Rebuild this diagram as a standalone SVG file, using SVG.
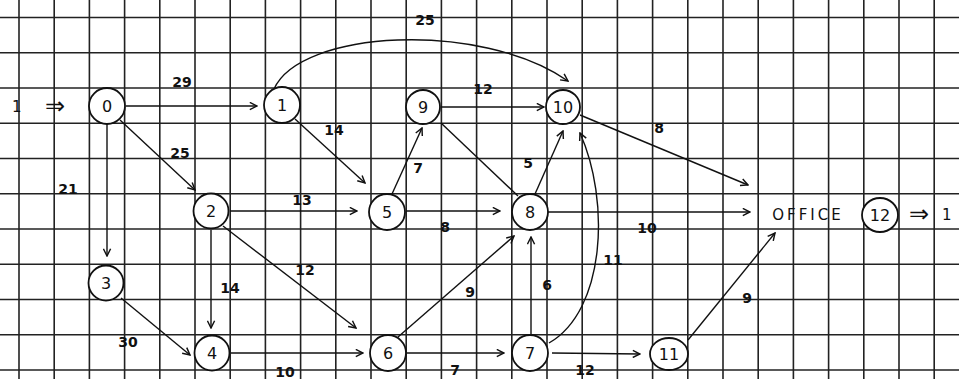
<svg xmlns="http://www.w3.org/2000/svg" width="959" height="379" viewBox="0 0 959 379">
<defs>
<marker id="ah" viewBox="0 0 10 10" refX="9" refY="5" markerWidth="9" markerHeight="9" markerUnits="userSpaceOnUse" orient="auto">
<path d="M1,1 L9,5 L1,9" fill="none" stroke="#111" stroke-width="1.6"/>
</marker>
<style>
.grid line{stroke:#222;stroke-width:1.6}
.n circle,.n ellipse{fill:#fff;stroke:#111;stroke-width:1.8}
.n text{font-family:"DejaVu Sans",sans-serif;font-size:16px;fill:#111;text-anchor:middle;dominant-baseline:central}
.e path,.e line{fill:none;stroke:#111;stroke-width:1.4}
.a{marker-end:url(#ah)}
.lbl text{font-family:"DejaVu Sans",sans-serif;font-size:14px;font-weight:bold;fill:#111;text-anchor:middle;dominant-baseline:central}
.t{font-family:"DejaVu Sans",sans-serif;font-size:15px;fill:#111;dominant-baseline:central}
.big{font-size:24px}
</style>
</defs>
<rect width="959" height="379" fill="#fff"/>
<g class="grid">
<line x1="19" y1="0" x2="19" y2="379"/><line x1="54.2" y1="0" x2="54.2" y2="379"/><line x1="89.4" y1="0" x2="89.4" y2="379"/><line x1="124.6" y1="0" x2="124.6" y2="379"/><line x1="159.8" y1="0" x2="159.8" y2="379"/><line x1="195" y1="0" x2="195" y2="379"/><line x1="230.2" y1="0" x2="230.2" y2="379"/><line x1="265.4" y1="0" x2="265.4" y2="379"/><line x1="300.6" y1="0" x2="300.6" y2="379"/><line x1="335.8" y1="0" x2="335.8" y2="379"/><line x1="371" y1="0" x2="371" y2="379"/><line x1="406.2" y1="0" x2="406.2" y2="379"/><line x1="441.4" y1="0" x2="441.4" y2="379"/><line x1="476.6" y1="0" x2="476.6" y2="379"/><line x1="511.8" y1="0" x2="511.8" y2="379"/><line x1="547" y1="0" x2="547" y2="379"/><line x1="582.2" y1="0" x2="582.2" y2="379"/><line x1="617.4" y1="0" x2="617.4" y2="379"/><line x1="652.6" y1="0" x2="652.6" y2="379"/><line x1="687.8" y1="0" x2="687.8" y2="379"/><line x1="723" y1="0" x2="723" y2="379"/><line x1="758.2" y1="0" x2="758.2" y2="379"/><line x1="793.4" y1="0" x2="793.4" y2="379"/><line x1="828.6" y1="0" x2="828.6" y2="379"/><line x1="863.8" y1="0" x2="863.8" y2="379"/><line x1="899" y1="0" x2="899" y2="379"/><line x1="934.2" y1="0" x2="934.2" y2="379"/>
<line x1="0" y1="17.5" x2="959" y2="17.5"/><line x1="0" y1="52.8" x2="959" y2="52.8"/><line x1="0" y1="88" x2="959" y2="88"/><line x1="0" y1="123.3" x2="959" y2="123.3"/><line x1="0" y1="158.5" x2="959" y2="158.5"/><line x1="0" y1="193.8" x2="959" y2="193.8"/><line x1="0" y1="229" x2="959" y2="229"/><line x1="0" y1="264.3" x2="959" y2="264.3"/><line x1="0" y1="299.5" x2="959" y2="299.5"/><line x1="0" y1="334.8" x2="959" y2="334.8"/><line x1="0" y1="370" x2="959" y2="370"/>
</g>
<g class="e" id="connectors">
<line class="a" x1="126" y1="106" x2="257" y2="106"/>
<line class="a" x1="120" y1="120" x2="195" y2="190"/>
<line class="a" x1="107" y1="124" x2="107" y2="256"/>
<path class="a" d="M274,89 C300,30 480,20 568,81"/>
<line class="a" x1="295" y1="119" x2="365" y2="183"/>
<line class="a" x1="441" y1="107" x2="544" y2="107"/>
<line class="a" x1="392" y1="194" x2="422" y2="128"/>
<line x1="441" y1="123" x2="518" y2="196"/>
<line class="a" x1="535" y1="194" x2="563" y2="131"/>
<path class="a" d="M549,343 C606,310 610,200 580,133"/>
<line class="a" x1="580" y1="115" x2="748" y2="185"/>
<line class="a" x1="230" y1="211" x2="357" y2="211"/>
<line class="a" x1="406" y1="211" x2="500" y2="211"/>
<line class="a" x1="548" y1="212" x2="750" y2="212"/>
<line class="a" x1="211" y1="230" x2="211" y2="328"/>
<line class="a" x1="223" y1="226" x2="356" y2="328"/>
<line class="a" x1="121" y1="298" x2="190" y2="355"/>
<line class="a" x1="231" y1="353" x2="363" y2="353"/>
<line class="a" x1="398" y1="337" x2="514" y2="236"/>
<line class="a" x1="407" y1="353" x2="504" y2="353"/>
<line class="a" x1="531" y1="335" x2="531" y2="237"/>
<line class="a" x1="552" y1="353" x2="640" y2="354"/>
<line class="a" x1="688" y1="340" x2="775" y2="233"/>
</g>
<g class="lbl" id="labels">
<text x="182" y="82">29</text>
<text x="180" y="153">25</text>
<text x="68" y="189">21</text>
<text x="425" y="20">25</text>
<text x="334" y="130">14</text>
<text x="483" y="89">12</text>
<text x="418" y="168">7</text>
<text x="528" y="163">5</text>
<text x="613" y="260">11</text>
<text x="659" y="128">8</text>
<text x="302" y="200">13</text>
<text x="445" y="227">8</text>
<text x="647" y="228">10</text>
<text x="230" y="288">14</text>
<text x="305" y="270">12</text>
<text x="128" y="342">30</text>
<text x="285" y="372">10</text>
<text x="470" y="292">9</text>
<text x="455" y="370">7</text>
<text x="547" y="285">6</text>
<text x="585" y="370">12</text>
<text x="747" y="298">9</text>
</g>
<g id="source">
<text class="t" x="12" y="107">1</text>
<text class="t big" x="45" y="106">⇒</text>
</g>
<g class="n" id="node0"><circle cx="107" cy="106" r="18"/><text x="107" y="106">0</text></g>
<g class="n" id="node1"><circle cx="282" cy="105" r="18"/><text x="282" y="105">1</text></g>
<g class="n" id="node9"><circle cx="423" cy="107" r="17"/><text x="423" y="107">9</text></g>
<g class="n" id="node10"><circle cx="563" cy="107" r="17"/><text x="563" y="107">10</text></g>
<g class="n" id="node2"><circle cx="211" cy="211" r="17.5"/><text x="211" y="211">2</text></g>
<g class="n" id="node5"><circle cx="387" cy="212" r="18"/><text x="387" y="212">5</text></g>
<g class="n" id="node8"><circle cx="530" cy="212" r="18"/><text x="530" y="212">8</text></g>
<g class="n" id="node3"><circle cx="106" cy="283" r="17.5"/><text x="106" y="283">3</text></g>
<g class="n" id="node4"><circle cx="212" cy="353" r="17.5"/><text x="212" y="353">4</text></g>
<g class="n" id="node6"><circle cx="388" cy="353" r="18"/><text x="388" y="353">6</text></g>
<g class="n" id="node7"><circle cx="530" cy="353" r="18"/><text x="530" y="353">7</text></g>
<g class="n" id="node11"><ellipse cx="669" cy="354" rx="19" ry="16"/><text x="669" y="354">11</text></g>
<g class="n" id="node12"><text x="808" y="215" style="letter-spacing:3px;font-size:15px">OFFICE</text><ellipse cx="880" cy="215" rx="18" ry="17"/><text x="880" y="215">12</text></g>
<g id="sink">
<text class="t big" x="909" y="214">⇒</text>
<text class="t" x="942" y="215">1</text>
</g>
</svg>
